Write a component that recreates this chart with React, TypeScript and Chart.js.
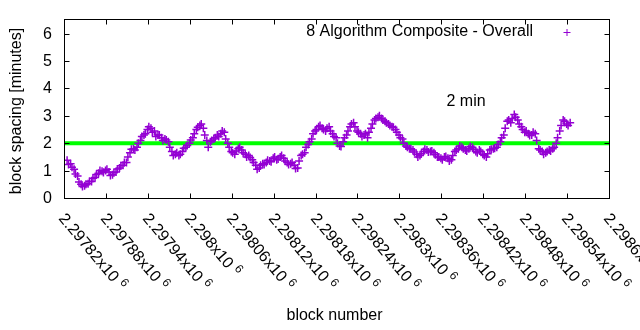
import React, { useEffect, useRef } from "react";
import { Chart, registerables } from "chart.js";

Chart.register(...registerables);

// block numbers: first block and spacing between the sampled blocks
const BLOCK_START = 2297823;
const BLOCK_STEP = 5;
const BLOCK_OFFSET_B = 2;

// block spacing [minutes], sampled blocks (set A)
const spacingMinutes = [
  1.38, 1.25, 1.05, 0.8, 0.5, 0.45, 0.52, 0.6, 0.75, 0.9,
  0.98, 1.0, 0.95, 0.85, 0.95, 1.1, 1.2, 1.3, 1.65, 1.8,
  1.85, 2.1, 2.3, 2.5, 2.55, 2.45, 2.3, 2.2, 2.15, 2.05,
  1.7, 1.6, 1.55, 1.7, 1.85, 2.0, 2.2, 2.5, 2.65, 2.55,
  2.1, 2.05, 2.15, 2.3, 2.35, 2.4, 2.0, 1.7, 1.6, 1.8,
  1.75, 1.6, 1.55, 1.4, 1.2, 1.1, 1.25, 1.3, 1.35, 1.45,
  1.4, 1.5, 1.45, 1.3, 1.25, 1.2, 1.1, 1.55, 1.65, 1.95,
  2.15, 2.45, 2.6, 2.55, 2.45, 2.6, 2.35, 2.2, 1.9, 2.05,
  2.3, 2.6, 2.75, 2.45, 2.35, 2.3, 2.2, 2.55, 2.85, 2.95,
  2.9, 2.8, 2.7, 2.6, 2.5, 2.3, 2.15, 1.9, 1.8, 1.75,
  1.6, 1.55, 1.7, 1.75, 1.7, 1.65, 1.5, 1.45, 1.5, 1.45,
  1.4, 1.7, 1.8, 1.85, 1.75, 1.8, 1.85, 1.7, 1.75, 1.6,
  1.5, 1.75, 1.8, 1.85, 2.05, 2.3, 2.8, 2.75, 3.05, 2.85,
  2.6, 2.4, 2.35, 2.3, 2.35, 1.8, 1.7, 1.65, 1.75, 1.8,
  2.0, 2.45, 2.85, 2.7, 2.75,
];

// block spacing [minutes], in-between blocks (set B)
const spacingMinutesB = [
  1.22, 1.12, 0.88, 0.58, 0.42, 0.5, 0.6, 0.72, 0.86, 1.0,
  0.93, 1.05, 0.82, 0.92, 1.06, 1.18, 1.3, 1.5, 1.78, 1.75,
  2.0, 2.25, 2.35, 2.6, 2.4, 2.25, 2.3, 2.1, 2.12, 1.85,
  1.55, 1.65, 1.6, 1.82, 1.92, 2.12, 2.35, 2.58, 2.7, 2.3,
  1.85, 2.1, 2.2, 2.25, 2.45, 2.15, 1.85, 1.65, 1.72, 1.85,
  1.65, 1.5, 1.48, 1.3, 1.05, 1.2, 1.22, 1.38, 1.32, 1.5,
  1.42, 1.55, 1.35, 1.22, 1.3, 1.08, 1.35, 1.6, 1.85, 2.05,
  2.35, 2.5, 2.65, 2.5, 2.55, 2.45, 2.25, 2.0, 1.88, 2.2,
  2.45, 2.7, 2.6, 2.4, 2.25, 2.35, 2.4, 2.7, 2.9, 3.0,
  2.85, 2.75, 2.65, 2.58, 2.4, 2.2, 2.0, 1.85, 1.8, 1.68,
  1.5, 1.62, 1.78, 1.68, 1.72, 1.58, 1.5, 1.4, 1.52, 1.35,
  1.55, 1.75, 1.9, 1.8, 1.72, 1.88, 1.78, 1.65, 1.7, 1.55,
  1.62, 1.78, 1.82, 1.95, 2.2, 2.55, 2.85, 2.9, 2.95, 2.7,
  2.5, 2.45, 2.28, 2.4, 2.1, 1.75, 1.6, 1.7, 1.72, 1.85,
  2.2, 2.65, 2.8, 2.65,
];

const TARGET_MINUTES = 2;
const TARGET_LABEL = "2 min";
const SERIES_LABEL = "8 Algorithm Composite - Overall";

const X_MIN = 2297820;
const X_MAX = 2298600;
const xTickValues = [
  2297820, 2297880, 2297940, 2298000, 2298060, 2298120, 2298180,
  2298240, 2298300, 2298360, 2298420, 2298480, 2298540, 2298600,
];
const xTickMantissas = [
  "2.29782", "2.29788", "2.29794", "2.298", "2.29806", "2.29812", "2.29818",
  "2.29824", "2.2983", "2.29836", "2.29842", "2.29848", "2.29854", "2.2986",
];
const Y_MIN = 0;
const Y_MAX = 6.5;
const yTickValues = [0, 1, 2, 3, 4, 5, 6];

const X_TITLE = "block number";
const Y_TITLE = "block spacing [minutes]";

const FONT = '"Liberation Sans", Arial, sans-serif';
const PURPLE = "#9400d3";

const decorPlugin = {
  id: "gnuplotDecor",
  afterDraw(chart: any) {
    const ctx = chart.ctx as CanvasRenderingContext2D;
    const { left, right, top, bottom } = chart.chartArea;
    const xs = chart.scales.x;
    const ys = chart.scales.y;
    ctx.save();
    ctx.strokeStyle = "#000";
    ctx.fillStyle = "#000";
    ctx.lineWidth = 1;
    // border
    ctx.strokeRect(left - 0.5, top - 0.5, right - left, bottom - top + 1);
    const TL = 5;
    // y ticks
    ctx.font = `16px ${FONT}`;
    ctx.textAlign = "right";
    ctx.textBaseline = "middle";
    yTickValues.forEach((v) => {
      const py = Math.round(ys.getPixelForValue(v)) + 0.5;
      ctx.beginPath();
      ctx.moveTo(left - 0.5, py);
      ctx.lineTo(left - 0.5 + TL, py);
      ctx.moveTo(right - 0.5, py);
      ctx.lineTo(right - 0.5 - TL, py);
      ctx.stroke();
      ctx.fillText(String(v), left - 13, py);
    });
    // x ticks
    xTickValues.forEach((v, i) => {
      const px = Math.round(xs.getPixelForValue(v)) - 0.5;
      ctx.beginPath();
      ctx.moveTo(px, bottom + 0.5);
      ctx.lineTo(px, bottom + 0.5 - TL);
      ctx.moveTo(px, top - 0.5);
      ctx.lineTo(px, top - 0.5 + TL);
      ctx.stroke();
      ctx.save();
      ctx.translate(px - 3, bottom + 18);
      ctx.rotate((50 * Math.PI) / 180);
      ctx.textAlign = "left";
      ctx.textBaseline = "middle";
      ctx.font = `16px ${FONT}`;
      const main = xTickMantissas[i] + "x10";
      ctx.fillText(main, 0, 0);
      const w = ctx.measureText(main + " ").width;
      ctx.font = `12px ${FONT}`;
      ctx.fillText("6", w, -5);
      ctx.restore();
    });
    // axis titles
    ctx.font = `16px ${FONT}`;
    ctx.textAlign = "center";
    ctx.textBaseline = "middle";
    ctx.fillText(X_TITLE, (left + right) / 2 - 3, 316);
    ctx.save();
    ctx.translate(17, (top + bottom) / 2 + 2);
    ctx.rotate(-Math.PI / 2);
    ctx.fillText(Y_TITLE, 0, 0);
    ctx.restore();
    // label
    ctx.textAlign = "left";
    ctx.fillText(
      TARGET_LABEL,
      xs.getPixelForValue(2298366),
      ys.getPixelForValue(3.53)
    );
    // key
    ctx.textAlign = "right";
    ctx.fillText(SERIES_LABEL, 533, 32);
    ctx.strokeStyle = PURPLE;
    ctx.beginPath();
    ctx.moveTo(563.5, 32.5);
    ctx.lineTo(570.5, 32.5);
    ctx.moveTo(567, 29);
    ctx.lineTo(567, 36);
    ctx.stroke();
    ctx.restore();
  },
};

export default function App() {
  const ref = useRef<HTMLCanvasElement | null>(null);
  useEffect(() => {
    if (!ref.current) return;
    const pointsA = spacingMinutes.map((y, i) => ({
      x: BLOCK_START + i * BLOCK_STEP,
      y,
    }));
    const pointsB = spacingMinutesB.map((y, i) => ({
      x: BLOCK_START + BLOCK_OFFSET_B + i * BLOCK_STEP,
      y,
    }));
    const markerStyle = {
      pointStyle: "cross",
      pointRadius: 4,
      pointHoverRadius: 4,
      borderColor: PURPLE,
      backgroundColor: PURPLE,
      borderWidth: 1.5,
      order: 1,
    };
    const chart = new Chart(ref.current, {
      type: "scatter",
      data: {
        datasets: [
          {
            type: "line",
            label: TARGET_LABEL,
            data: [
              { x: X_MIN, y: TARGET_MINUTES },
              { x: X_MAX, y: TARGET_MINUTES },
            ],
            borderColor: "#00ff00",
            borderWidth: 4,
            pointRadius: 0,
            order: 2,
          } as any,
          { label: SERIES_LABEL, data: pointsA, ...markerStyle } as any,
          { label: SERIES_LABEL, data: pointsB, ...markerStyle } as any,
        ],
      },
      options: {
        responsive: false,
        animation: false,
        events: [],
        layout: { padding: { left: 65, right: 30, top: 20, bottom: 132 } },
        plugins: {
          legend: { display: false },
          tooltip: { enabled: false },
        },
        scales: {
          x: { type: "linear", min: X_MIN, max: X_MAX, display: false },
          y: { min: Y_MIN, max: Y_MAX, display: false },
        },
      },
      plugins: [decorPlugin],
    });
    return () => chart.destroy();
  }, []);
  return (
    <div style={{ position: "fixed", left: 0, top: 0, width: 640, height: 330, background: "#fff" }}>
      <canvas ref={ref} width={640} height={330} style={{ display: "block" }} />
    </div>
  );
}
